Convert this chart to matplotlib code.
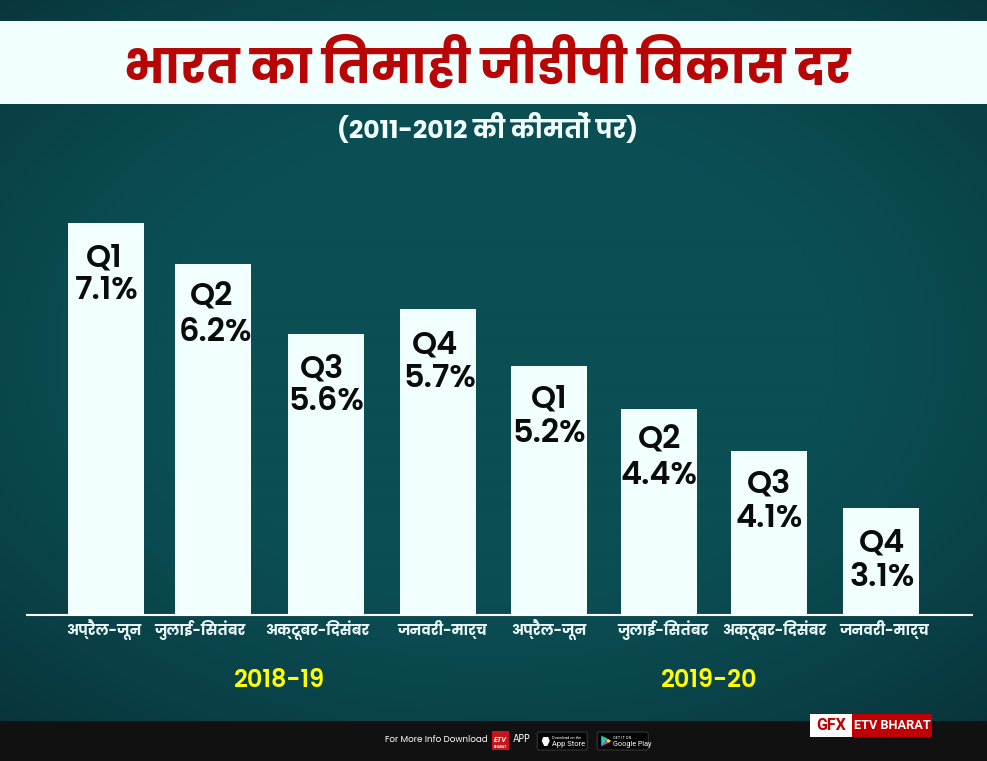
import re

import numpy as np
import matplotlib
matplotlib.use("Agg")
import matplotlib.pyplot as plt
from matplotlib.patches import Rectangle, FancyBboxPatch, Polygon

#Chart text
title = "भारत का तिमाही जीडीपी विकास दर"
subtitle = "(2011-2012 की कीमतों पर)"
months = ["अप्रैल-जून", "जुलाई-सितंबर", "अक्टूबर-दिसंबर", "जनवरी-मार्च",
          "अप्रैल-जून", "जुलाई-सितंबर", "अक्टूबर-दिसंबर", "जनवरी-मार्च"]
quarters = ["Q1", "Q2", "Q3", "Q4", "Q1", "Q2", "Q3", "Q4"]
years = ["2018-19", "2019-20"]

#GDP growth as printed on the bars
gdp_growth = [7.1, 6.2, 5.6, 5.7, 5.2, 4.4, 4.1, 3.1]
#The bars are not drawn to scale in the original, so their heights are read separately
bar_heights = [7.12, 6.38, 5.11, 5.56, 4.52, 3.74, 2.98, 1.94]

#Layout nudges, in pixels
PX_PER_STEP = 110.71
bar_nudge = [0, -3.7, -1.4, 0, 0, -0.6, -1.3, 0]
tick_nudge = [-2, -16.7, -10.4, 4, 0, 3.4, 3.7, 3]
q_nudge = [-1.5, -2, -4, -3, 0, 0, 0, 1]
val_nudge = [1, 2, 0.5, 1.5, 0, 0, 0, 1]
q_drop = [35, 33, 35, 36, 33, 31, 33, 35]
val_drop = [67, 69, 68, 70, 67, 66, 68, 69]

W, H = 987, 761
TEAL_MID = np.array([11, 78, 84]) / 255
TEAL_EDGE = np.array([7, 48, 54]) / 255
PALE = "#f1ffff"
RED = "#b80505"
POP = ["Poppins", "DejaVu Sans"]
ROB = ["Roboto", "DejaVu Sans"]


def visual(s):
    #matplotlib does no Devanagari shaping, so the short i sign has to go before its consonant
    return re.sub("(.)\u093f", "\u093f\\1", s)


fig = plt.figure(figsize=((W + 0.4) / 100, (H + 0.4) / 100), dpi=100)

#Full figure axes in pixels for the background and banners
bg = fig.add_axes([0, 0, 1, 1], zorder=0)
bg.set_xlim(0, W)
bg.set_ylim(H, 0)
bg.axis("off")

yy, xx = np.mgrid[0:H:4, 0:W:4]
dist = np.hypot((xx - 493) / 760, (yy - 350) / 520)
mix = np.clip(dist - 0.45, 0, 1)[..., None] ** 1.3 * 2.0
mix = np.clip(mix, 0, 1)
bg.imshow(TEAL_MID * (1 - mix) + TEAL_EDGE * mix, extent=(0, W, H, 0), aspect="auto",
          interpolation="bilinear", zorder=0)

bg.add_patch(Rectangle((0, 21), W, 83, color=PALE, lw=0, zorder=1))
bg.text(487, 83, visual(title), color=RED, family=POP, weight="bold", fontsize=34.4,
        ha="center", va="baseline", zorder=2)
bg.text(487, 138, subtitle, color=PALE, family=POP, weight="bold", fontsize=18.1,
        ha="center", va="baseline", zorder=2)

#Chart axes, baseline at 615 px and 55 px per y unit
left, right, base = 27, 972, 615
ax = fig.add_axes([left / W, (H - base) / H, (right - left) / W, 440 / H], zorder=1)
ax.patch.set_alpha(0)
ax.set_xlim((left - 106) / PX_PER_STEP, (right - 106) / PX_PER_STEP)
ax.set_ylim(0, 8)

idx = np.arange(len(bar_heights))
bar_x = idx + np.array(bar_nudge) / PX_PER_STEP
ax.bar(bar_x, bar_heights, width=76 / PX_PER_STEP, color=PALE, linewidth=0)

for i in idx:
    ax.annotate(quarters[i], (idx[i], bar_heights[i]), xytext=(q_nudge[i] + bar_nudge[i], -q_drop[i]),
                textcoords="offset pixels", ha="center", va="center", color="#0b0b0b",
                family=POP, weight="semibold", fontsize=23)
    ax.annotate("%.1f%%" % gdp_growth[i], (idx[i], bar_heights[i]), xytext=(val_nudge[i] + bar_nudge[i], -val_drop[i]),
                textcoords="offset pixels", ha="center", va="center", color="#0b0b0b",
                family=POP, weight="semibold", fontsize=23)

for s in ["top", "left", "right"]:
    ax.spines[s].set_visible(False)
ax.spines["bottom"].set_color("white")
ax.spines["bottom"].set_linewidth(1.5)
ax.set_yticks([])
ax.set_xticks(idx + np.array(tick_nudge) / PX_PER_STEP)
ax.set_xticklabels([visual(m) for m in months], family=POP, weight="bold", fontsize=10.4,
                   color="#eaf6f6", va="baseline")
ax.tick_params(axis="x", length=0, pad=14.0)

#Fiscal year labels
bg.text(279, 687, years[0], color="#ffff00", family=POP, weight="semibold", fontsize=17.3,
        ha="center", va="baseline", zorder=2)
bg.text(709, 687, years[1], color="#ffff00", family=POP, weight="semibold", fontsize=17.3,
        ha="center", va="baseline", zorder=2)

#Footer band
bg.add_patch(Rectangle((0, 721), W, 40, color="#111111", lw=0, zorder=1))
bg.text(385, 742, "For More Info Download", color="white", family=POP, fontsize=6.3,
        ha="left", va="baseline", zorder=2)
bg.add_patch(Rectangle((492, 731), 17, 19, color="#c8141a", lw=0, zorder=2))
bg.text(500.5, 739, "ETV", color="white", family=ROB, weight="bold", style="italic", fontsize=5.2,
        ha="center", va="center", zorder=3)
bg.text(500.5, 747, "BHARAT", color="white", family=ROB, weight="bold", fontsize=2.4,
        ha="center", va="center", zorder=3)
bg.text(512, 742, "APP", color="white", family=POP, fontsize=7, ha="left", va="baseline", zorder=2)

for x0, x1 in [(537, 587), (597, 648)]:
    bg.add_patch(FancyBboxPatch((x0, 732), x1 - x0, 18, boxstyle="round,pad=0,rounding_size=2",
                                fc="#050505", ec="#3a3a3a", lw=0.7, zorder=2))
bg.add_patch(Polygon([(543, 737), (548, 737), (549.5, 741), (547, 746), (544, 746), (541.5, 741)],
                     color="white", lw=0, zorder=3))
bg.text(552, 737.5, "Download on the", color="white", family=ROB, fontsize=2.8, ha="left", va="center", zorder=3)
bg.text(552, 744, "App Store", color="white", family=ROB, fontsize=5.4, ha="left", va="center", zorder=3)
bg.add_patch(Polygon([(601, 735.5), (601, 746.5), (606, 741)], color="#27c4e8", lw=0, zorder=3))
bg.add_patch(Polygon([(601, 735.5), (606, 741), (608, 739)], color="#37d67a", lw=0, zorder=3))
bg.add_patch(Polygon([(601, 746.5), (606, 741), (608, 743)], color="#ef4a4a", lw=0, zorder=3))
bg.add_patch(Polygon([(608, 739), (611, 741), (608, 743), (606, 741)], color="#ffd23a", lw=0, zorder=3))
bg.text(613, 737.5, "GET IT ON", color="white", family=ROB, fontsize=2.8, ha="left", va="center", zorder=3)
bg.text(613, 744, "Google Play", color="white", family=ROB, fontsize=5.2, ha="left", va="center", zorder=3)

#GFX tag
bg.add_patch(Rectangle((810, 714), 42, 23, color="white", lw=0, zorder=2))
bg.add_patch(Rectangle((852, 714), 80, 23, color="#c00000", lw=0, zorder=2))
bg.text(831, 725.5, "GFX", color="#c00000", family=ROB, weight="bold", fontsize=11.5, ha="center",
        va="center", zorder=3)
bg.text(892, 725.5, "ETV BHARAT", color="white", family=ROB, weight="bold", fontsize=9.2, ha="center",
        va="center", zorder=3)

fig.savefig("out.png", dpi=100)
